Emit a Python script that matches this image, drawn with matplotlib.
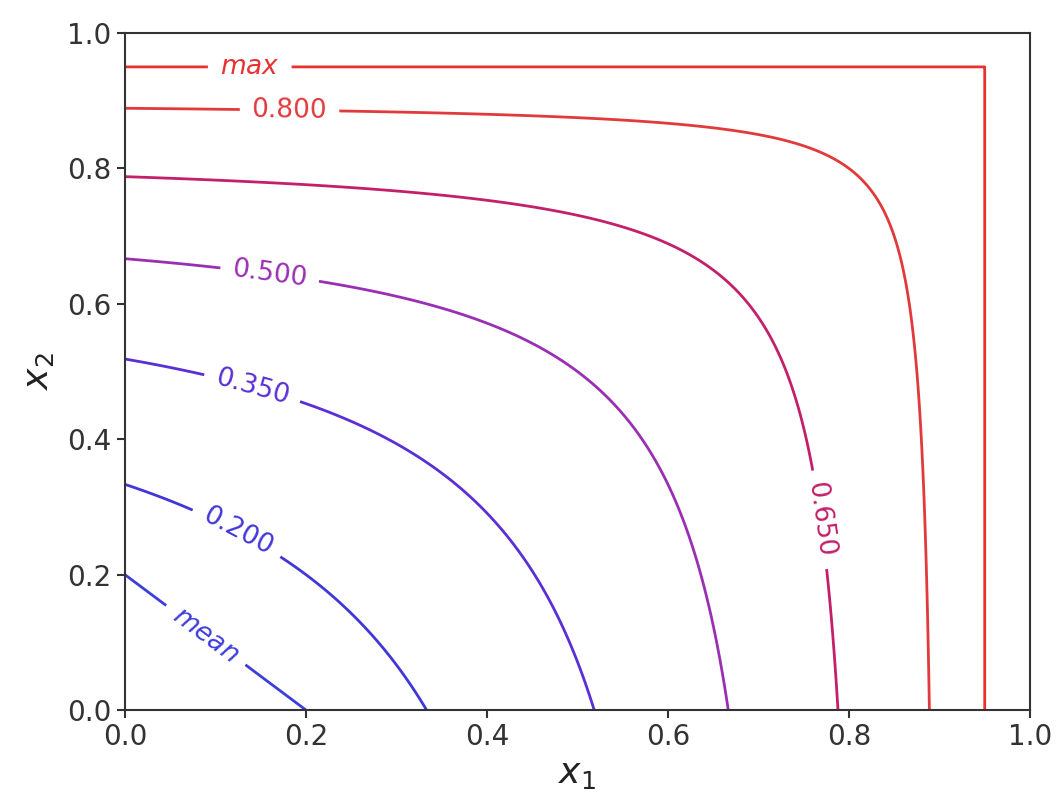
import numpy as np
import matplotlib
matplotlib.use("Agg")
import matplotlib.pyplot as plt

# contour levels of the odds-based quasi-arithmetic mean
odds_levels = [0.2, 0.35, 0.5, 0.65, 0.8]
odds_labels = ["0.200", "0.350", "0.500", "0.650", "0.800"]
odds_colors = ["#4136d8", "#5a2fd6", "#9a2fb4", "#c4206a", "#e23a3c"]

# reference aggregators
mean_level = 0.1
max_level = 0.95
mean_color = "#3d3ddc"
max_color = "#e83232"

xs = np.linspace(0.0, 0.9999, 1200)
X1, X2 = np.meshgrid(xs, xs)


def odds(x):
    return x / (1.0 - x)


def odds_inv(o):
    return o / (1.0 + o)


G = odds_inv((odds(X1) + odds(X2)) / 2.0)
M = (X1 + X2) / 2.0
MX = np.maximum(X1, X2)

fig = plt.figure(figsize=(10.58, 8.08), dpi=100)
ax = fig.add_axes([0.118, 0.1213, 0.8555, 0.8378])

lw = 2.0
fs = 19

cs = ax.contour(X1, X2, M, levels=[mean_level], colors=[mean_color], linewidths=lw)
ax.clabel(cs, fmt={mean_level: r"$mean$"}, fontsize=fs, inline=True,
          inline_spacing=12, manual=[(0.088, 0.108)])

label_pos = [(0.127, 0.27), (0.141, 0.477), (0.16, 0.643), (0.768, 0.281), (0.182, 0.889)]
for lev, lab, col, pos in zip(odds_levels, odds_labels, odds_colors, label_pos):
    cs = ax.contour(X1, X2, G, levels=[lev], colors=[col], linewidths=lw)
    ax.clabel(cs, fmt={lev: lab}, fontsize=fs, inline=True,
              inline_spacing=12, manual=[pos])

cs = ax.contour(X1, X2, MX, levels=[max_level], colors=[max_color], linewidths=lw)
ax.clabel(cs, fmt={max_level: r"$max$"}, fontsize=fs, inline=True,
          inline_spacing=12, manual=[(0.138, 0.95)])

ax.set_xlim(0, 1)
ax.set_ylim(0, 1)
ax.set_xticks(np.arange(0, 1.01, 0.2))
ax.set_yticks(np.arange(0, 1.01, 0.2))
ax.tick_params(labelsize=20, width=1.5, length=6, colors="#333333")
for sp in ax.spines.values():
    sp.set_linewidth(1.5)
    sp.set_color("#333333")
ax.set_xlabel(r"$x_1$", fontsize=26, labelpad=4, color="#222222")
ax.set_ylabel(r"$x_2$", fontsize=26, labelpad=8, color="#222222")

fig.savefig("out.png", dpi=100)
